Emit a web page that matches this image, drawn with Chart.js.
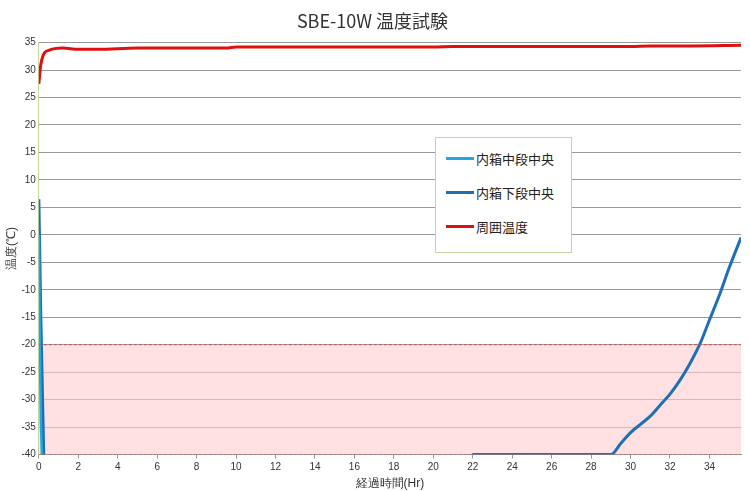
<!DOCTYPE html>
<html lang="ja">
<head>
<meta charset="UTF-8">
<script src="https://cdn.jsdelivr.net/npm/chart.js"></script>
<style>
  body { margin: 0; background: #fff; font-family: "Noto Sans CJK JP", sans-serif; }
  #wrap { position: relative; width: 750px; height: 491px; }
  #legend {
    position: absolute; left: 435px; top: 137px; width: 135px; height: 114px;
    border: 1px solid #c4d79b; background: #fff; font-size: 13px; color: #222;
  }
  .item { position: absolute; left: 10px; display: flex; align-items: center; }
  .item span.sw { display: inline-block; width: 28px; height: 3px; margin-right: 2px; }
</style>
</head>
<body>
<div id="wrap">
  <canvas id="c" width="750" height="491"></canvas>
  <div id="legend">
    <div class="item" style="top:11px"><span class="sw" style="background:#22a7e0"></span>内箱中段中央</div>
    <div class="item" style="top:45px"><span class="sw" style="background:#1f6fb5"></span>内箱下段中央</div>
    <div class="item" style="top:79px"><span class="sw" style="background:#e01010"></span>周囲温度</div>
  </div>
</div>
<script>
const ambientHours = [0, 0.05, 0.1, 0.2, 0.3, 0.5, 0.8, 1.2, 2, 3, 5, 9.5, 10, 15, 20, 21, 25, 30, 31, 33, 35.6];
const ambientTemp  = [27.5, 29.5, 31, 32.5, 33.2, 33.6, 33.9, 34, 33.8, 33.8, 34, 34, 34.2, 34.2, 34.2, 34.3, 34.3, 34.3, 34.4, 34.4, 34.5];

const midHours = [0, 0.05, 0.1, 0.2, 0.3, 35.6];
const midTemp  = [0, -20, -34, -45, -50, -50];

const lowHours = [0, 0.1, 0.2, 0.3, 21.9, 22, 29, 29.5, 30, 30.5, 31, 31.5, 32, 32.5, 33, 33.5, 34, 34.5, 35, 35.6];
const lowTemp  = [6.5, -15, -32, -45, -45, -40, -40, -38, -36, -34.5, -33, -31, -29, -26.5, -23.5, -20, -15.5, -11, -6, -0.5];

const bandHours = [0, 35.6];
const bandTop = [-20, -20];
const bandBottom = [-40, -40];

const xy = (xs, ys) => xs.map((x, i) => ({ x: x, y: ys[i] }));

new Chart(document.getElementById('c'), {
  type: 'line',
  data: {
    datasets: [
      { data: xy(bandHours, bandBottom), borderColor: '#c0504d', borderWidth: 1, borderDash: [3, 2], pointRadius: 0, fill: false },
      { data: xy(bandHours, bandTop), borderColor: '#c0504d', borderWidth: 1, borderDash: [3, 2], pointRadius: 0, fill: '-1', backgroundColor: 'rgba(255,205,210,0.6)' },
      { label: '内箱中段中央', data: xy(midHours, midTemp), borderColor: '#22a7e0', borderWidth: 2.5, pointRadius: 0 },
      { label: '内箱下段中央', data: xy(lowHours, lowTemp), borderColor: '#1f6fb5', borderWidth: 3, pointRadius: 0, cubicInterpolationMode: 'monotone' },
      { label: '周囲温度', data: xy(ambientHours, ambientTemp), borderColor: '#e01010', borderWidth: 3, pointRadius: 0, cubicInterpolationMode: 'monotone' }
    ]
  },
  options: {
    responsive: false,
    animation: false,
    layout: { padding: { right: 9, left: 4, top: 0 } },
    plugins: {
      legend: { display: false },
      tooltip: { enabled: false },
      filler: { drawTime: 'beforeDatasetsDraw' },
      title: { display: true, text: 'SBE-10W 温度試験', color: '#333', font: { size: 18, family: '"Noto Sans CJK JP"', weight: 'normal' }, padding: { top: 10, bottom: 11 } }
    },
    scales: {
      x: {
        type: 'linear', min: 0, max: 35.6,
        afterBuildTicks: axis => { axis.ticks = []; for (let v = 0; v <= 34; v += 2) axis.ticks.push({ value: v }); },
        ticks: { autoSkip: false, color: '#333', font: { size: 10 }, maxRotation: 0 },
        grid: { drawOnChartArea: false, color: '#999', tickLength: 4 },
        border: { color: '#999' },
        title: { display: true, text: '経過時間(Hr)', color: '#333', font: { size: 12 }, padding: 0 }
      },
      y: {
        min: -40, max: 35,
        ticks: { stepSize: 5, color: '#333', font: { size: 10 } },
        grid: { color: '#999', drawTicks: false },
        border: { color: '#c4d79b' },
        title: { display: true, text: '温度(℃)', color: '#333', font: { size: 12 }, padding: 0 }
      }
    }
  }
});
</script>
</body>
</html>
